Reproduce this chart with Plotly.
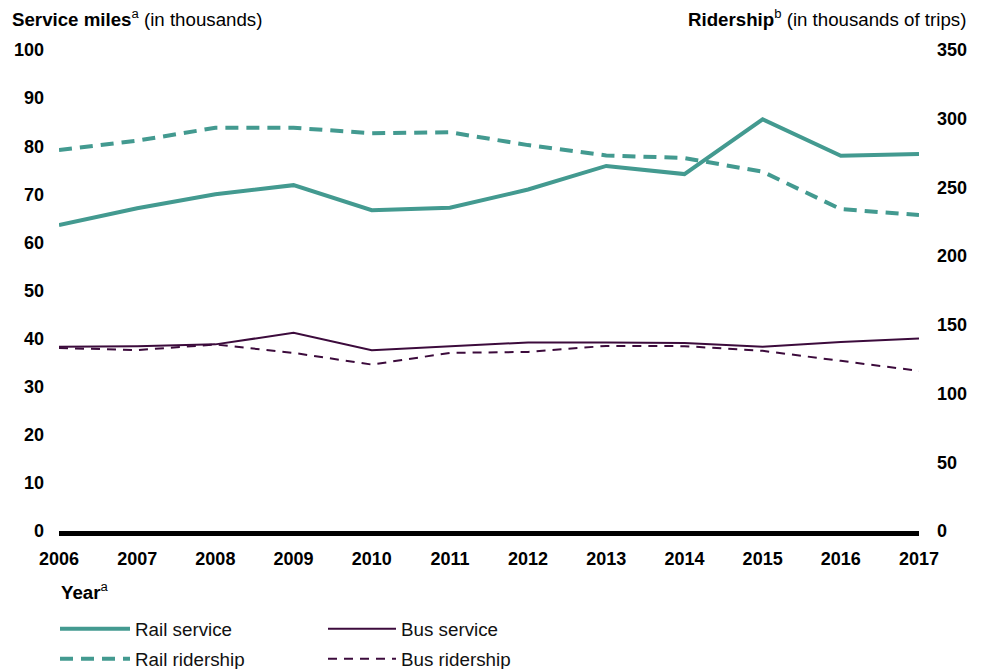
import plotly.graph_objects as go

years = [2006, 2007, 2008, 2009, 2010, 2011, 2012, 2013, 2014, 2015, 2016, 2017]
rail_service = [63.6, 67.1, 70.0, 71.9, 66.7, 67.2, 71.0, 75.9, 74.2, 85.6, 78.0, 78.4]
bus_service = [38.3, 38.4, 38.8, 41.2, 37.6, 38.4, 39.2, 39.2, 39.1, 38.3, 39.3, 40.0]
rail_ridership = [277.2, 284.0, 293.4, 293.4, 289.4, 290.1, 280.8, 273.3, 271.4, 261.4, 234.2, 229.9]
bus_ridership = [133.2, 131.6, 135.7, 129.6, 121.1, 129.6, 130.3, 134.7, 134.5, 131.1, 123.8, 116.5]

left_ticks = [0, 10, 20, 30, 40, 50, 60, 70, 80, 90, 100]
right_ticks = [0, 50, 100, 150, 200, 250, 300, 350]

TEAL = "#439a90"
PURPLE = "#3c0b3c"
FONT = "Liberation Sans, Arial, sans-serif"

W, H = 987, 669
L, R, T, B = 59, 68, 50, 138
pw = W - L - R
ph = H - T - B

def px(x):
    return (x - L) / pw

def py(y):
    return (H - B - y) / ph

fig = go.Figure()
fig.add_trace(go.Scatter(x=years, y=rail_service, mode="lines", name="Rail service",
                         line=dict(color=TEAL, width=4), legend="legend", yaxis="y"))
fig.add_trace(go.Scatter(x=years, y=rail_ridership, mode="lines", name="Rail ridership",
                         line=dict(color=TEAL, width=4, dash="13px,8px"), legend="legend2", yaxis="y2"))
fig.add_trace(go.Scatter(x=years, y=bus_service, mode="lines", name="Bus service",
                         line=dict(color=PURPLE, width=2), legend="legend3", yaxis="y"))
fig.add_trace(go.Scatter(x=years, y=bus_ridership, mode="lines", name="Bus ridership",
                         line=dict(color=PURPLE, width=2, dash="9px,7px"), legend="legend4", yaxis="y2"))

leg_common = dict(font=dict(family=FONT, size=18.8, color="#111"), bgcolor="rgba(0,0,0,0)",
                  yanchor="middle", xanchor="left", orientation="v")

fig.update_layout(
    width=W, height=H,
    margin=dict(l=L, r=R, t=T, b=B, autoexpand=False),
    plot_bgcolor="white", paper_bgcolor="white",
    font=dict(family=FONT, size=18, color="#000"),
    xaxis=dict(range=[2006, 2017], tickvals=years, ticktext=[f"<b>{y}</b>" for y in years],
               showgrid=False, zeroline=False, showline=True, linecolor="#000", linewidth=5,
               ticks="", ticklabelstandoff=7, tickfont=dict(size=18, family=FONT)),
    yaxis=dict(range=[0, 100], tickvals=left_ticks, ticktext=[f"<b>{v}</b>" for v in left_ticks],
               showgrid=False, zeroline=False, showline=False, ticks="", ticklabelstandoff=14,
               tickfont=dict(size=18, family=FONT)),
    yaxis2=dict(range=[0, 350], tickvals=right_ticks, ticktext=[f"<b>{v}</b>" for v in right_ticks],
                overlaying="y", side="right", showgrid=False, zeroline=False, showline=False,
                ticks="", ticklabelstandoff=17, tickfont=dict(size=18, family=FONT)),
    legend=dict(x=px(55), y=py(629), itemwidth=70, **leg_common),
    legend2=dict(x=px(55), y=py(659), itemwidth=70, **leg_common),
    legend3=dict(x=px(323), y=py(629), itemwidth=68, **leg_common),
    legend4=dict(x=px(323), y=py(659), itemwidth=68, **leg_common),
    showlegend=True,
    annotations=[
        dict(text="<b>Service miles</b><sup>a</sup> (in thousands)", xref="paper", yref="paper",
             x=px(10), y=py(18), xanchor="left", yanchor="middle", showarrow=False,
             font=dict(size=18.7, family=FONT, color="#000")),
        dict(text="<b>Ridership</b><sup>b</sup> (in thousands of trips)", xref="paper", yref="paper",
             x=px(968), y=py(18), xanchor="right", yanchor="middle", showarrow=False,
             font=dict(size=18.7, family=FONT, color="#000")),
        dict(text="<b>Year</b><sup>a</sup>", xref="paper", yref="paper",
             x=px(59), y=py(591), xanchor="left", yanchor="middle", showarrow=False,
             font=dict(size=18.7, family=FONT, color="#000")),
    ],
)

fig.write_html("out.html", config={"displayModeBar": False},
               post_script="document.body.style.margin='0';")
